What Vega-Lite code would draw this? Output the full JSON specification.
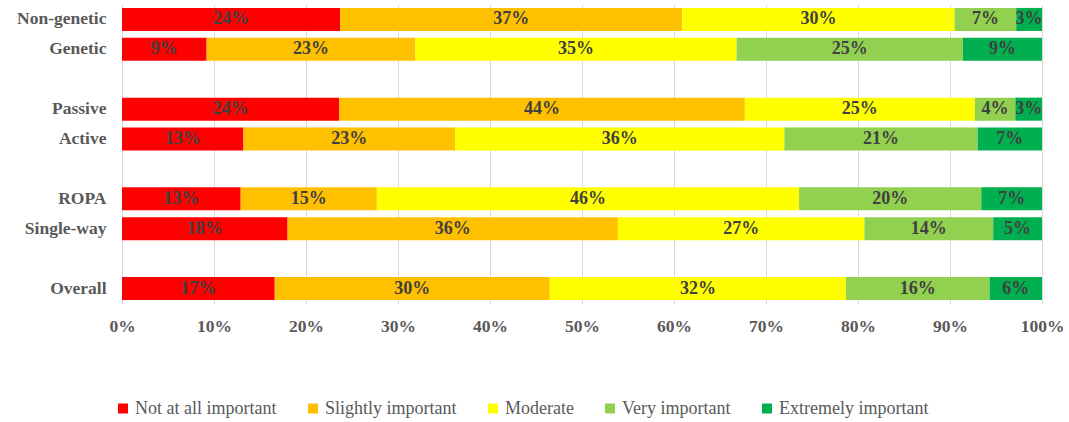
{
  "$schema": "https://vega.github.io/schema/vega-lite/v6.json",
  "width": 920,
  "height": 299,
  "autosize": {"type": "none"},
  "padding": {"left": 122, "top": 4.5, "right": 27, "bottom": 118.5},
  "background": "white",
  "config": {
    "view": {"stroke": null},
    "font": "'Liberation Serif', 'Times New Roman', serif"
  },
  "data": {
    "values": [
      {"g": "Non-genetic", "level": "Not at all important", "k": 1, "v": 0.237},
      {"g": "Non-genetic", "level": "Slightly important", "k": 2, "v": 0.372},
      {"g": "Non-genetic", "level": "Moderate", "k": 3, "v": 0.296},
      {"g": "Non-genetic", "level": "Very important", "k": 4, "v": 0.067},
      {"g": "Non-genetic", "level": "Extremely important", "k": 5, "v": 0.028},
      {"g": "Genetic", "level": "Not at all important", "k": 1, "v": 0.092},
      {"g": "Genetic", "level": "Slightly important", "k": 2, "v": 0.227},
      {"g": "Genetic", "level": "Moderate", "k": 3, "v": 0.349},
      {"g": "Genetic", "level": "Very important", "k": 4, "v": 0.246},
      {"g": "Genetic", "level": "Extremely important", "k": 5, "v": 0.086},
      {"g": "Passive", "level": "Not at all important", "k": 1, "v": 0.236},
      {"g": "Passive", "level": "Slightly important", "k": 2, "v": 0.441},
      {"g": "Passive", "level": "Moderate", "k": 3, "v": 0.250},
      {"g": "Passive", "level": "Very important", "k": 4, "v": 0.044},
      {"g": "Passive", "level": "Extremely important", "k": 5, "v": 0.029},
      {"g": "Active", "level": "Not at all important", "k": 1, "v": 0.132},
      {"g": "Active", "level": "Slightly important", "k": 2, "v": 0.230},
      {"g": "Active", "level": "Moderate", "k": 3, "v": 0.358},
      {"g": "Active", "level": "Very important", "k": 4, "v": 0.210},
      {"g": "Active", "level": "Extremely important", "k": 5, "v": 0.070},
      {"g": "ROPA", "level": "Not at all important", "k": 1, "v": 0.129},
      {"g": "ROPA", "level": "Slightly important", "k": 2, "v": 0.148},
      {"g": "ROPA", "level": "Moderate", "k": 3, "v": 0.459},
      {"g": "ROPA", "level": "Very important", "k": 4, "v": 0.198},
      {"g": "ROPA", "level": "Extremely important", "k": 5, "v": 0.066},
      {"g": "Single-way", "level": "Not at all important", "k": 1, "v": 0.180},
      {"g": "Single-way", "level": "Slightly important", "k": 2, "v": 0.359},
      {"g": "Single-way", "level": "Moderate", "k": 3, "v": 0.268},
      {"g": "Single-way", "level": "Very important", "k": 4, "v": 0.140},
      {"g": "Single-way", "level": "Extremely important", "k": 5, "v": 0.053},
      {"g": "Overall", "level": "Not at all important", "k": 1, "v": 0.166},
      {"g": "Overall", "level": "Slightly important", "k": 2, "v": 0.299},
      {"g": "Overall", "level": "Moderate", "k": 3, "v": 0.322},
      {"g": "Overall", "level": "Very important", "k": 4, "v": 0.156},
      {"g": "Overall", "level": "Extremely important", "k": 5, "v": 0.057}
    ]
  },
  "encoding": {
    "y": {
      "field": "g",
      "type": "nominal",
      "title": null,
      "scale": {
        "domain": ["Non-genetic", "Genetic", " ", "Passive", "Active", "  ", "ROPA", "Single-way", "   ", "Overall"],
        "paddingInner": 0.23,
        "paddingOuter": 0.115
      },
      "axis": {
        "domain": false,
        "ticks": false,
        "grid": false,
        "labelFont": "'Liberation Serif', 'Times New Roman', serif",
        "labelFontSize": 17.5,
        "labelFontWeight": "bold",
        "labelColor": "#595959",
        "labelPadding": 16
      }
    }
  },
  "layer": [
    {
      "mark": {"type": "bar"},
      "encoding": {
        "x": {
          "field": "v",
          "type": "quantitative",
          "stack": "zero",
          "title": null,
          "scale": {"domain": [0, 1], "nice": false},
          "axis": {
            "format": ".0%",
            "values": [0, 0.1, 0.2, 0.3, 0.4, 0.5, 0.6, 0.7, 0.8, 0.9, 1],
            "domain": false,
            "ticks": false,
            "grid": true,
            "gridColor": "#D9D9D9",
            "gridWidth": 1,
            "labelFont": "'Liberation Serif', 'Times New Roman', serif",
            "labelFontSize": 17.5,
            "labelFontWeight": "bold",
            "labelColor": "#595959",
            "labelPadding": 14,
            "labelFlush": false
          }
        },
        "color": {
          "field": "level",
          "type": "nominal",
          "title": null,
          "sort": ["Not at all important", "Slightly important", "Moderate", "Very important", "Extremely important"],
          "scale": {
            "domain": ["Not at all important", "Slightly important", "Moderate", "Very important", "Extremely important"],
            "range": ["#FF0000", "#FFC000", "#FFFF00", "#92D050", "#00B050"]
          },
          "legend": {
            "orient": "none",
            "direction": "horizontal",
            "legendX": -8,
            "legendY": 395,
            "symbolType": "square",
            "symbolSize": 100,
            "symbolStrokeWidth": 0,
            "symbolOpacity": 1,
            "labelFont": "'Liberation Serif', 'Times New Roman', serif",
            "labelFontSize": 18,
            "labelColor": "#595959",
            "labelOffset": 3,
            "columnPadding": 27
          }
        },
        "order": {"field": "k", "type": "quantitative"}
      }
    },
    {
      "mark": {
        "type": "text",
        "font": "'Liberation Serif', 'Times New Roman', serif",
        "fontSize": 18,
        "fontWeight": "bold",
        "color": "#404040",
        "baseline": "middle",
        "align": "center"
      },
      "encoding": {
        "x": {"field": "v", "type": "quantitative", "stack": "zero", "bandPosition": 0.5},
        "detail": {"field": "level"},
        "order": {"field": "k", "type": "quantitative"},
        "text": {"field": "v", "type": "quantitative", "format": ".0%"}
      }
    }
  ]
}
